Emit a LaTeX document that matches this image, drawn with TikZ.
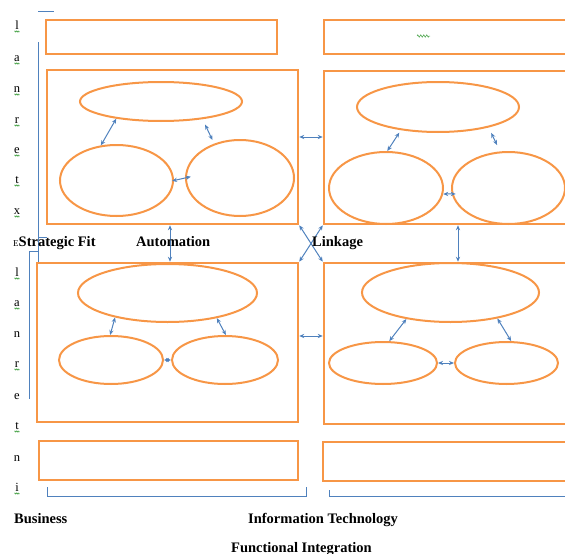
\documentclass[tikz,border=0pt]{standalone}
\usepackage{fontspec}
\setmainfont{Liberation Serif}
\usetikzlibrary{arrows.meta,shapes.geometric,decorations.pathmorphing}
\definecolor{orng}{HTML}{F79646}
\definecolor{blu}{HTML}{4F81BD}
\definecolor{sqg}{HTML}{3E9E3E}
\tikzset{
 box/.style={draw=orng, line width=2.5pt, rectangle, inner sep=0pt},
 ell/.style={draw=orng, line width=2pt, ellipse, inner sep=0pt},
 arr/.style={draw=blu, line width=1pt, {Stealth[length=5pt,width=4.2pt]}-{Stealth[length=5pt,width=4.2pt]}},
 brk/.style={draw=blu, line width=1pt},
 lbl/.style={font=\fontsize{14.5}{16}\selectfont\bfseries, inner sep=0pt, anchor=base west},
 vlet/.style={font=\fontsize{12.5}{13}\selectfont, inner sep=0pt, anchor=base},
 sq/.style={draw=sqg, line width=0.5pt, decorate, decoration={zigzag, segment length=1.6pt, amplitude=0.6pt}},
}
\begin{document}
\begin{tikzpicture}[x=1pt,y=-1pt]
\useasboundingbox (0,0) rectangle (565,554);
\clip (0,0) rectangle (565,554);
% boxes
\node[box, minimum width=231pt, minimum height=34pt] (TL) at (161.5,37) {};
\node[box, minimum width=276pt, minimum height=34pt] (TR) at (462,37) {};
\node[box, minimum width=251pt, minimum height=154pt] (ULb) at (172.5,147) {};
\node[box, minimum width=276pt, minimum height=153pt] (URb) at (462,147.5) {};
\node[box, minimum width=261pt, minimum height=159pt] (LLb) at (167.5,342.5) {};
\node[box, minimum width=276pt, minimum height=161pt] (LRb) at (462,343.5) {};
\node[box, minimum width=259pt, minimum height=39pt] (BL) at (168.5,460.5) {};
\node[box, minimum width=277pt, minimum height=39pt] (BR) at (461.5,461.5) {};
% ellipses upper left
\node[ell, minimum width=162pt, minimum height=39pt] (E1) at (161,101.5) {};
\node[ell, minimum width=113pt, minimum height=71pt] (E2) at (116.5,180.5) {};
\node[ell, minimum width=108pt, minimum height=76pt] (E3) at (240,178) {};
% upper right
\node[ell, minimum width=162pt, minimum height=50pt] (F1) at (438,107) {};
\node[ell, minimum width=114pt, minimum height=72pt] (F2) at (386,188) {};
\node[ell, minimum width=113pt, minimum height=72pt] (F3) at (508.5,188) {};
% lower left
\node[ell, minimum width=179pt, minimum height=58pt] (G1) at (167.5,293) {};
\node[ell, minimum width=104pt, minimum height=48pt] (G2) at (111,360) {};
\node[ell, minimum width=106pt, minimum height=48pt] (G3) at (225,360) {};
% lower right
\node[ell, minimum width=177pt, minimum height=59pt] (H1) at (450.5,292.5) {};
\node[ell, minimum width=108pt, minimum height=42pt] (H2) at (383,363) {};
\node[ell, minimum width=103pt, minimum height=42pt] (H3) at (506.5,363) {};
% arrows inside panels
\draw[arr] (E1.201) -- (E2.114);
\draw[arr, shorten <=6pt, shorten >=4pt] (E1.337) -- (E3.127);
\draw[arr, shorten <=-2pt, shorten >=-6pt] (E2.east) -- (E3.west);
\draw[arr, shorten <=3pt] (F1.212) -- (F2.88);
\draw[arr, shorten <=6pt, shorten >=7pt] (F1.338) -- (F3.103);
\draw[arr, shorten >=-4pt] (F2.354) -- (F3.186);
\draw[arr] (G1.205) -- (G2.92);
\draw[arr] (G1.333) -- (G3.88);
\draw[arr] (G2.east) -- (G3.west);
\draw[arr] (H1.211) -- (H2.74);
\draw[arr] (H1.331) -- (H3.78);
\draw[arr] (H2.east) -- (H3.west);
% arrows between panels
\draw[arr] (ULb.east |- 0,137) -- (URb.west |- 0,137);
\draw[arr] (ULb.south -| 170,0) -- (LLb.north -| 170,0);
\draw[arr] (ULb.south east) -- (LRb.north west);
\draw[arr] (URb.south west) -- (LLb.north east);
\draw[arr] (URb.south -| 458,0) -- (LRb.north -| 458,0);
\draw[arr] (LLb.east |- 0,336) -- (LRb.west |- 0,336);
% brackets
\coordinate (k1) at (38,11); \coordinate (k2) at (54,11);
\draw[brk] (k1) -- (k2);
\coordinate (v1) at (38,42);
\draw[brk] (v1) -- (LLb.north -| v1);
\coordinate (t1) at (38,237); \coordinate (t2) at (47,237);
\draw[brk] (t1) -- (t2);
\coordinate (w1) at (38,251); \coordinate (w2) at (29,251); \coordinate (w3) at (29,399);
\draw[brk] (w1) -- (w2) -- (w3);
\coordinate (b1) at (47,487); \coordinate (b2) at (47,496); \coordinate (b3) at (306,496); \coordinate (b4) at (306,487);
\draw[brk] (b1) -- (b2) -- (b3) -- (b4);
\coordinate (c1) at (329,490); \coordinate (c2) at (329,496); \coordinate (c3) at (600,496);
\draw[brk] (c1) -- (c2) -- (c3);
% vertical letters
\foreach \ch/\yy/\s [count=\i] in {l/25/1,a/57/1,n/88/1,r/119/1,e/149/1,t/179/1,x/210/1,l/272/1,a/302/1,n/333/0,r/363/1,e/395/0,t/425/1,n/457/0,i/487/1}{
  \node[vlet] (vl\i) at (17,\yy+4) {\ch};
  \ifnum\s=1
    \draw[sq] ([xshift=-2.5pt,yshift=-2.5pt]vl\i.base) -- ([xshift=2.5pt,yshift=-2.5pt]vl\i.base);
  \fi
}
% green squiggle in top right box
\coordinate (g1) at (417,36); \coordinate (g2) at (430,36);
\draw[sq, decoration={zigzag, segment length=3pt, amplitude=1.2pt}] (g1) -- (g2);
% labels
\node[lbl] (sf) at (13,246) {{\mdseries\fontsize{9}{10}\selectfont E}Strategic Fit};
\node[lbl] (au) at (136,246) {Automation};
\node[lbl] (lk) at (312,246) {Linkage};
\node[lbl] (bu) at (14,523) {Business};
\node[lbl] (it) at (248,523) {Information Technology};
\node[lbl] (fi) at (231,552) {Functional Integration};
\end{tikzpicture}
\end{document}
